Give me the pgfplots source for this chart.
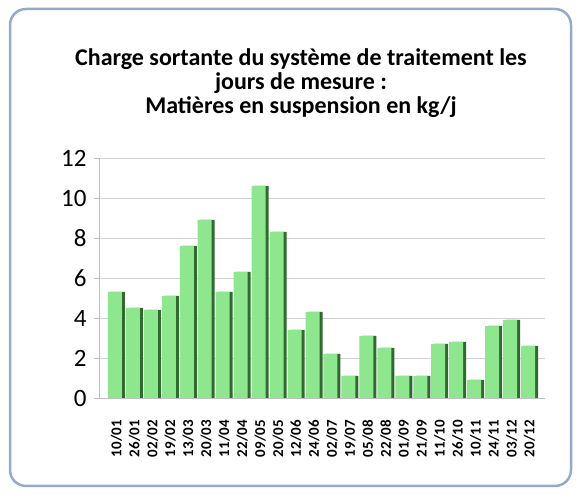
\documentclass[border=0pt]{standalone}
\usepackage{pgfplots}
\pgfplotsset{compat=1.18}
\usepackage{fontspec}
\setmainfont{Carlito}
\definecolor{barg}{HTML}{8EE68E}
\definecolor{bard}{HTML}{2F6A2F}
\definecolor{framec}{HTML}{95AACB}
\begin{document}
\begin{tikzpicture}[x=1pt,y=1pt]
\path[use as bounding box] (0,0) rectangle (581,494);
\draw[framec, line width=2.5pt, rounded corners=16pt, fill=white] (10,8) rectangle (571,485);
\node[font=\fontsize{24}{24}\selectfont\bfseries, align=center] at (301,411) {Charge sortante du système de traitement les\\jours de mesure :\\Matières en suspension en kg/j};
\begin{axis}[at={(99pt,96pt)}, anchor=south west, scale only axis,
  width=446pt, height=240pt,
  xmin=-0.97, xmax=23.86, ymin=0, ymax=12,
  ytick={0,2,...,12},
  ymajorgrids, grid style={gray!35, line width=0.8pt},
  axis lines*=left,
  y axis line style={draw=gray!50, line width=0.8pt},
  x axis line style={draw=gray!50, line width=0.8pt},
  ytick style={draw=gray!50, line width=0.8pt},
  ytick align=outside, major tick length=5pt,
  xtick style={draw=none},
  /pgf/number format/assume math mode=true,
  yticklabel style={font=\fontsize{25}{25}\selectfont, xshift=-4pt},
  xtick={0,...,23},
  xticklabels={10/01,26/01,02/02,19/02,13/03,20/03,11/04,22/04,09/05,20/05,12/06,24/06,02/07,19/07,05/08,22/08,01/09,21/09,11/10,26/10,10/11,24/11,03/12,20/12},
  xticklabel style={rotate=90, anchor=east, font=\fontsize{15}{15}\selectfont\bfseries, inner sep=0pt},
  xticklabel shift=17pt,
  ybar, bar width=14pt,
]
\addplot[fill=bard, draw=none, bar shift=1.5pt] coordinates {
(0,5.3) (1,4.5) (2,4.4) (3,5.1) (4,7.6) (5,8.9) (6,5.3) (7,6.3) (8,10.6) (9,8.3) (10,3.4) (11,4.3) (12,2.2) (13,1.1) (14,3.1) (15,2.5) (16,1.1) (17,1.1) (18,2.7) (19,2.8) (20,0.9) (21,3.6) (22,3.9) (23,2.6)};
\addplot[fill=barg, draw=none, bar shift=-1.5pt] coordinates {
(0,5.3) (1,4.5) (2,4.4) (3,5.1) (4,7.6) (5,8.9) (6,5.3) (7,6.3) (8,10.6) (9,8.3) (10,3.4) (11,4.3) (12,2.2) (13,1.1) (14,3.1) (15,2.5) (16,1.1) (17,1.1) (18,2.7) (19,2.8) (20,0.9) (21,3.6) (22,3.9) (23,2.6)};
\end{axis}
\end{tikzpicture}
\end{document}
